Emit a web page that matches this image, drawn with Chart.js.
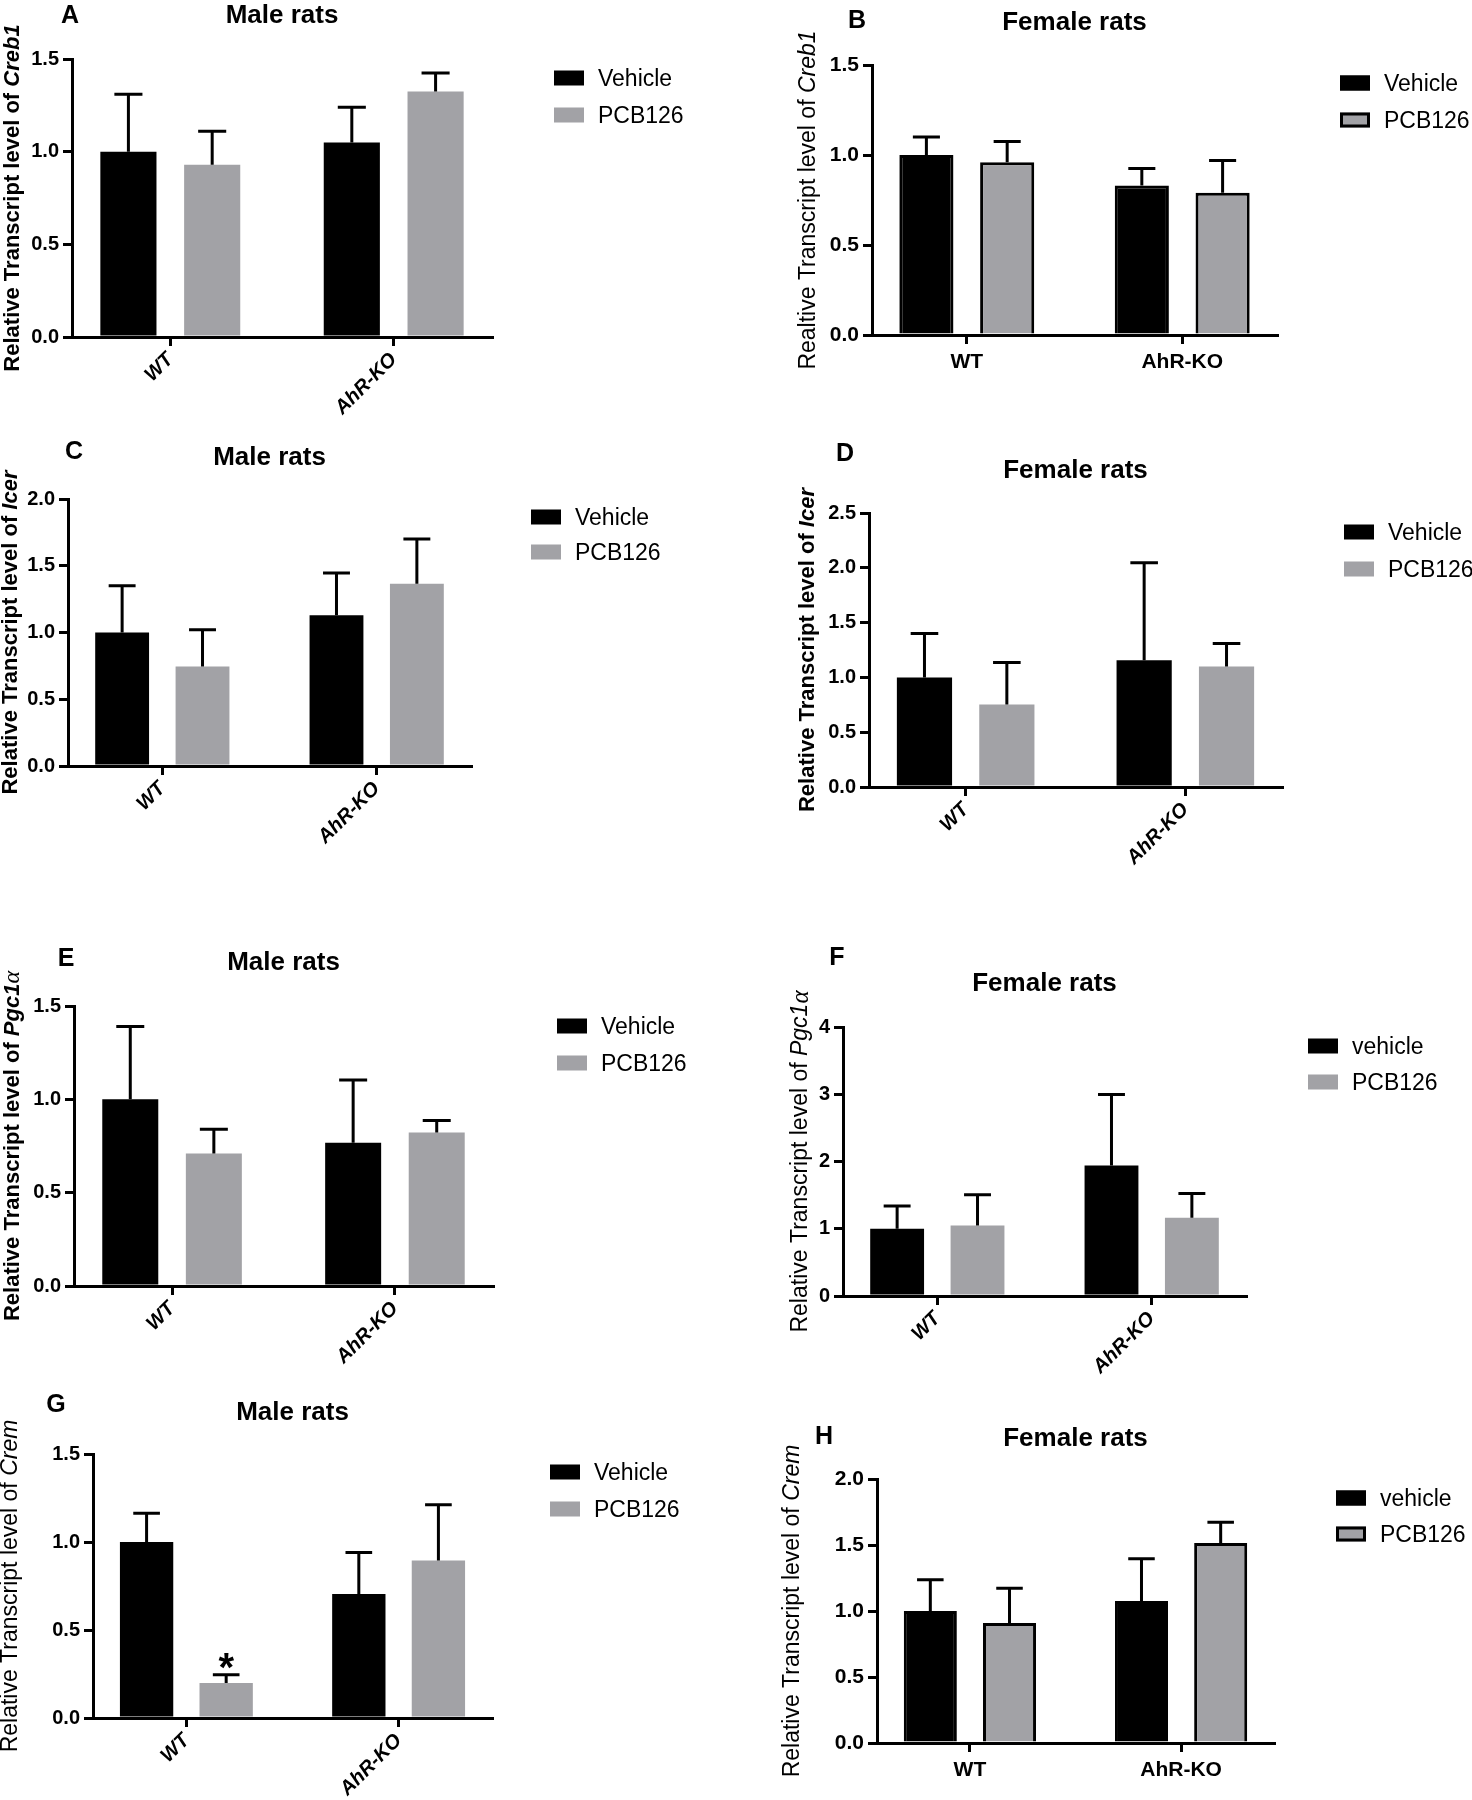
<!DOCTYPE html>
<html>
<head>
<meta charset="utf-8">
<script src="https://cdn.jsdelivr.net/npm/chart.js@4.4.1/dist/chart.umd.min.js"></script>
<style>
html,body{margin:0;padding:0;background:#fff;}
#wrap{position:relative;width:1472px;height:1800px;background:#fff;}
#wrap canvas{position:absolute;}
</style>
</head>
<body>
<div id="wrap"></div>
<script>
// ---------- data ----------
const categories = ['WT', 'AhR-KO'];
const seriesLabelsCap = ['Vehicle', 'PCB126'];
const seriesLabelsLow = ['vehicle', 'PCB126'];

// A – Creb1, male rats
const creb1MaleVehicle = [1.00, 1.05];
const creb1MaleVehicleErr = [0.31, 0.19];
const creb1MalePCB = [0.93, 1.325];
const creb1MalePCBErr = [0.18, 0.10];
// B – Creb1, female rats
const creb1FemaleVehicle = [1.00, 0.83];
const creb1FemaleVehicleErr = [0.10, 0.095];
const creb1FemalePCB = [0.96, 0.79];
const creb1FemalePCBErr = [0.115, 0.18];
// C – Icer, male rats
const icerMaleVehicle = [1.00, 1.13];
const icerMaleVehicleErr = [0.35, 0.315];
const icerMalePCB = [0.745, 1.365];
const icerMalePCBErr = [0.275, 0.335];
// D – Icer, female rats
const icerFemaleVehicle = [1.00, 1.157];
const icerFemaleVehicleErr = [0.40, 0.89];
const icerFemalePCB = [0.753, 1.10];
const icerFemalePCBErr = [0.383, 0.21];
// E – Pgc1a, male rats
const pgcMaleVehicle = [1.00, 0.767];
const pgcMaleVehicleErr = [0.39, 0.336];
const pgcMalePCB = [0.71, 0.822];
const pgcMalePCBErr = [0.13, 0.065];
// F – Pgc1a, female rats
const pgcFemaleVehicle = [1.00, 1.94];
const pgcFemaleVehicleErr = [0.337, 1.055];
const pgcFemalePCB = [1.05, 1.163];
const pgcFemalePCBErr = [0.455, 0.362];
// G – Crem, male rats
const cremMaleVehicle = [1.00, 0.704];
const cremMaleVehicleErr = [0.163, 0.236];
const cremMalePCB = [0.199, 0.895];
const cremMalePCBErr = [0.047, 0.317];
const cremMalePCBSig = ['*', ''];
// H – Crem, female rats
const cremFemaleVehicle = [1.00, 1.076];
const cremFemaleVehicleErr = [0.237, 0.32];
const cremFemalePCB = [0.91, 1.515];
const cremFemalePCBErr = [0.262, 0.157];

// y tick labels
const yTicks15 = [0, 0.5, 1.0, 1.5];
const yTicks20 = [0, 0.5, 1.0, 1.5, 2.0];
const yTicks25 = [0, 0.5, 1.0, 1.5, 2.0, 2.5];
const yTicks4 = [0, 1, 2, 3, 4];

// ---------- layout / style ----------
const FONT = "'Liberation Sans', Arial, Helvetica, sans-serif";
const SERIF = "'Liberation Serif', 'DejaVu Serif', serif";
const GREY = '#a2a2a6';

const panels = [
  {letter:'A', col:0, top:0, h:430, area:[72,492,59,337], letterXY:[70,14], titleY:14, ytX:13,
   title:'Male rats', yPrefix:'Relative Transcript level of ', gene:'Creb1', yBold:true,
   yTicks:yTicks15, dec:1, rotate:true, outline:false, names:seriesLabelsCap, legend:[62,19,37], tickFont:20,
   veh:creb1MaleVehicle, vehErr:creb1MaleVehicleErr, pcb:creb1MalePCB, pcbErr:creb1MalePCBErr, sig:null},
  {letter:'B', col:736, top:0, h:430, area:[872,1277,65,335], letterXY:[857,19], titleY:21, ytX:809,
   title:'Female rats', yPrefix:'Realtive Transcript level of ', gene:'Creb1', yBold:false,
   yTicks:yTicks15, dec:1, rotate:false, outline:true, names:seriesLabelsCap, legend:[63,18,37], tickFont:21,
   veh:creb1FemaleVehicle, vehErr:creb1FemaleVehicleErr, pcb:creb1FemalePCB, pcbErr:creb1FemalePCBErr, sig:null},
  {letter:'C', col:0, top:430, h:490, area:[68,471,499,766], letterXY:[74,450], titleY:456, ytX:11,
   title:'Male rats', yPrefix:'Relative Transcript level of ', gene:'Icer', yBold:true,
   yTicks:yTicks20, dec:1, rotate:true, outline:false, names:seriesLabelsCap, legend:[60,18,35], tickFont:20,
   veh:icerMaleVehicle, vehErr:icerMaleVehicleErr, pcb:icerMalePCB, pcbErr:icerMalePCBErr, sig:null},
  {letter:'D', col:736, top:430, h:490, area:[869,1282,513,787], letterXY:[845,452], titleY:469, ytX:808,
   title:'Female rats', yPrefix:'Relative Transcript level of ', gene:'Icer', yBold:true,
   yTicks:yTicks25, dec:1, rotate:true, outline:false, names:seriesLabelsCap, legend:[62,19,37], tickFont:20,
   veh:icerFemaleVehicle, vehErr:icerFemaleVehicleErr, pcb:icerFemalePCB, pcbErr:icerFemalePCBErr, sig:null},
  {letter:'E', col:0, top:920, h:460, area:[74,493,1006,1286], letterXY:[66,957], titleY:961, ytX:13,
   title:'Male rats', yPrefix:'Relative Transcript level of ', gene:'Pgc1', greek:'\u03B1', yBold:true,
   yTicks:yTicks15, dec:1, rotate:true, outline:false, names:seriesLabelsCap, legend:[64,20,37], tickFont:20,
   veh:pgcMaleVehicle, vehErr:pgcMaleVehicleErr, pcb:pgcMalePCB, pcbErr:pgcMalePCBErr, sig:null},
  {letter:'F', col:736, top:920, h:460, area:[843,1246,1027,1296], letterXY:[837,956], titleY:982, ytX:801,
   title:'Female rats', yPrefix:'Relative Transcript level of ', gene:'Pgc1', greek:'\u03B1', yBold:false,
   yTicks:yTicks4, dec:0, rotate:true, outline:false, names:seriesLabelsLow, legend:[62,19,36], tickFont:20,
   veh:pgcFemaleVehicle, vehErr:pgcFemaleVehicleErr, pcb:pgcFemalePCB, pcbErr:pgcFemalePCBErr, sig:null},
  {letter:'G', col:0, top:1380, h:420, area:[93,492,1454,1718], letterXY:[56,1403], titleY:1411, ytX:11,
   title:'Male rats', yPrefix:'Relative Transcript level of ', gene:'Crem', yBold:false,
   yTicks:yTicks15, dec:1, rotate:true, outline:false, names:seriesLabelsCap, legend:[58,18,37], tickFont:20,
   veh:cremMaleVehicle, vehErr:cremMaleVehicleErr, pcb:cremMalePCB, pcbErr:cremMalePCBErr, sig:cremMalePCBSig},
  {letter:'H', col:736, top:1380, h:420, area:[877,1274,1479,1743], letterXY:[824,1435], titleY:1437, ytX:793,
   title:'Female rats', yPrefix:'Relative Transcript level of ', gene:'Crem', yBold:false,
   yTicks:yTicks20, dec:1, rotate:false, outline:true, names:seriesLabelsLow, legend:[62,19,36], tickFont:21,
   veh:cremFemaleVehicle, vehErr:cremFemaleVehicleErr, pcb:cremFemalePCB, pcbErr:cremFemalePCBErr, sig:null}
];

function capText(ctx, text, x, yc, size) {
  ctx.textBaseline = 'alphabetic';
  ctx.fillText(text, x, yc + 0.358 * size);
}

const decor = {
  id: 'decor',
  afterDatasetsDraw(chart) {
    const ctx = chart.ctx, ys = chart.scales.y;
    ctx.save();
    ctx.strokeStyle = '#000';
    ctx.fillStyle = '#000';
    ctx.lineWidth = 3;
    ctx.lineCap = 'butt';
    chart.data.datasets.forEach((ds, d) => {
      const meta = chart.getDatasetMeta(d);
      meta.data.forEach((el, j) => {
        const top = ys.getPixelForValue(ds.data[j].y + ds.errors[j]);
        const half = el.width / 4;
        ctx.beginPath();
        ctx.moveTo(el.x, el.y);
        ctx.lineTo(el.x, top);
        ctx.moveTo(el.x - half, top);
        ctx.lineTo(el.x + half, top);
        ctx.stroke();
        if (ds.marks && ds.marks[j]) {
          ctx.font = `bold 40px ${FONT}`;
          const m = ctx.measureText(ds.marks[j]);
          const hgt = m.actualBoundingBoxAscent + m.actualBoundingBoxDescent;
          ctx.textAlign = 'center';
          ctx.textBaseline = 'alphabetic';
          const cy = top - 14;
          ctx.fillText(ds.marks[j], el.x, cy + hgt / 2 - m.actualBoundingBoxDescent);
        }
      });
    });
    ctx.restore();
  },
  afterDraw(chart, args, o) {
    const ctx = chart.ctx, a = chart.chartArea;
    ctx.save();
    ctx.fillStyle = '#000';
    ctx.textAlign = 'center';
    ctx.font = `bold 25px ${FONT}`;
    capText(ctx, o.letter, o.letterX, o.letterY, 25);
    ctx.font = `bold 26px ${FONT}`;
    capText(ctx, o.title, (a.left + a.right) / 2, o.titleY, 26);

    // y-axis title with italic gene name
    const w = o.yBold ? 'bold ' : '';
    const size = o.yBold ? 22 : 23;
    const parts = [
      {t: o.yPrefix, f: `${w}${size}px ${FONT}`},
      {t: o.gene, f: `italic ${w}${size}px ${FONT}`}
    ];
    if (o.greek) parts.push({t: o.greek, f: `italic ${size + 2}px ${SERIF}`});
    let total = 0;
    parts.forEach(p => { ctx.font = p.f; p.w = ctx.measureText(p.t).width; total += p.w; });
    ctx.save();
    ctx.translate(o.ytX, (a.top + a.bottom) / 2);
    ctx.rotate(-Math.PI / 2);
    ctx.textAlign = 'left';
    ctx.textBaseline = 'middle';
    let x = -total / 2;
    parts.forEach(p => { ctx.font = p.f; ctx.fillText(p.t, x, 0); x += p.w; });
    ctx.restore();

    // legend
    chart.data.datasets.forEach((ds, d) => {
      const bx = a.right + o.legend[0];
      const by = a.top + o.legend[1] + d * o.legend[2];
      ctx.fillStyle = ds.backgroundColor;
      ctx.fillRect(bx, by - 7.5, 30, 15);
      if (o.outline) {
        ctx.strokeStyle = '#000';
        ctx.lineWidth = 3;
        ctx.strokeRect(bx + 1.5, by - 6, 27, 12);
      }
      ctx.fillStyle = '#000';
      ctx.textAlign = 'left';
      ctx.font = `23px ${FONT}`;
      capText(ctx, ds.label, bx + 44, by, 23);
    });
    ctx.restore();
  }
};

const wrap = document.getElementById('wrap');

panels.forEach(p => {
  const cw = 736;
  const canvas = document.createElement('canvas');
  canvas.width = cw;
  canvas.height = p.h;
  canvas.style.left = p.col + 'px';
  canvas.style.top = p.top + 'px';
  canvas.style.width = cw + 'px';
  canvas.style.height = p.h + 'px';
  wrap.appendChild(canvas);

  const [L, R, T, B] = p.area;
  const yWidth = L - p.col;
  const padRight = p.col + cw - R;
  const padTop = T - p.top;
  const xHeight = p.top + p.h - B;

  const gridCommon = {display: true, offset: false, drawOnChartArea: false, drawTicks: true, tickLength: 9,
                      tickWidth: 3, tickColor: '#000', color: '#000', lineWidth: 3};
  const borderCommon = {display: true, color: '#000', width: 3};

  new Chart(canvas, {
    type: 'bar',
    data: {
      datasets: [
        {label: p.names[0], data: p.veh.map((v, i) => ({x: i, y: v})), errors: p.vehErr,
         backgroundColor: '#000', borderColor: '#000', borderWidth: p.outline ? 3 : 0, borderSkipped: 'bottom'},
        {label: p.names[1], data: p.pcb.map((v, i) => ({x: i, y: v})), errors: p.pcbErr, marks: p.sig,
         backgroundColor: GREY, borderColor: p.outline ? '#000' : GREY, borderWidth: p.outline ? 3 : 0, borderSkipped: 'bottom'}
      ]
    },
    options: {
      responsive: false,
      maintainAspectRatio: false,
      animation: false,
      devicePixelRatio: 1,
      events: [],
      datasets: {bar: {categoryPercentage: 0.75, barPercentage: 0.67}},
      layout: {padding: {left: 0, top: padTop, right: padRight, bottom: 0}},
      plugins: {
        legend: {display: false},
        tooltip: {enabled: false},
        title: {display: false},
        decor: {letter: p.letter, letterX: p.letterXY[0] - p.col, letterY: p.letterXY[1] - p.top,
                title: p.title, titleY: p.titleY - p.top, ytX: p.ytX - p.col,
                yPrefix: p.yPrefix, gene: p.gene, greek: p.greek, yBold: p.yBold,
                legend: p.legend, outline: p.outline}
      },
      scales: {
        x: {
          type: 'linear', min: -0.44, max: 1.44, offset: false, z: 1,
          grid: gridCommon, border: borderCommon,
          afterBuildTicks: s => { s.ticks = categories.map((c, i) => ({value: i})); },
          afterFit: s => { s.height = xHeight; },
          ticks: {
            autoSkip: false,
            minRotation: p.rotate ? 45 : 0, maxRotation: p.rotate ? 45 : 0,
            padding: p.rotate ? 2 : 6,
            color: '#000',
            font: {family: FONT, weight: 'bold', style: p.rotate ? 'italic' : 'normal', size: p.rotate ? 20 : 21},
            callback: v => categories[Math.round(v)]
          }
        },
        y: {
          type: 'linear', min: 0, max: p.yTicks[p.yTicks.length - 1], z: 1,
          grid: gridCommon, border: borderCommon,
          afterBuildTicks: s => { s.ticks = p.yTicks.map(v => ({value: v})); },
          afterFit: s => { s.width = yWidth; },
          ticks: {
            padding: 4,
            color: '#000',
            font: {family: FONT, weight: 'bold', size: p.tickFont},
            callback: v => Number(v).toFixed(p.dec)
          }
        }
      }
    },
    plugins: [decor]
  });
});
</script>
</body>
</html>
